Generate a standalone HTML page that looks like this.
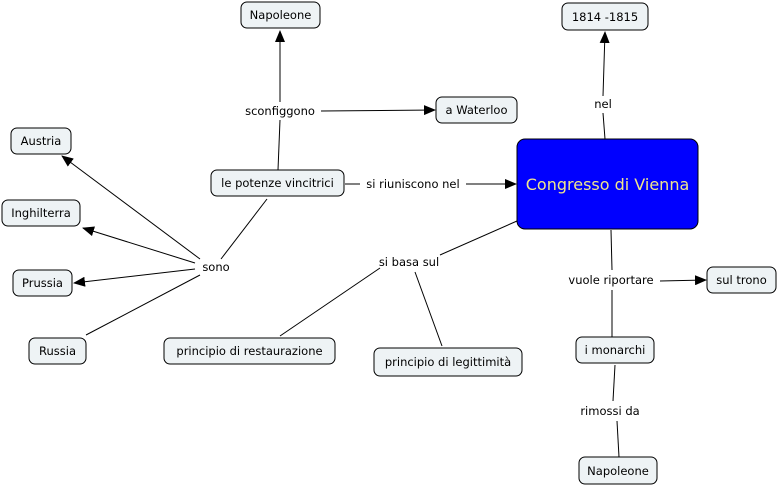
<!DOCTYPE html>
<html><head><meta charset="utf-8"><style>
body{margin:0;background:#fff}
svg{display:block}
text{font-family:"DejaVu Sans","Liberation Sans",sans-serif;font-size:11.5px;fill:#000}
.n{fill:#eef3f5;stroke:#000;stroke-width:1}
.l{stroke:#000;stroke-width:1;fill:none}
</style></head><body>
<svg width="778" height="488" viewBox="0 0 778 488" xmlns="http://www.w3.org/2000/svg">
<defs><marker id="a" markerWidth="12" markerHeight="10" refX="11" refY="5" orient="auto" markerUnits="userSpaceOnUse"><path d="M0,0 L12,5 L0,10 z" fill="#000"/></marker></defs>
<g class="l">
<line x1="278" y1="170" x2="280" y2="120"/>
<line x1="280" y1="102" x2="280" y2="31" marker-end="url(#a)"/>
<line x1="321" y1="111" x2="435" y2="110" marker-end="url(#a)"/>
<line x1="345" y1="184" x2="360" y2="184"/>
<line x1="466" y1="184" x2="516" y2="184" marker-end="url(#a)"/>
<line x1="605" y1="139" x2="603" y2="113"/>
<line x1="603" y1="96" x2="605" y2="32" marker-end="url(#a)"/>
<line x1="267" y1="199" x2="221" y2="259"/>
<line x1="200" y1="259" x2="62" y2="156" marker-end="url(#a)"/>
<line x1="195" y1="263" x2="83" y2="228" marker-end="url(#a)"/>
<line x1="195" y1="269" x2="74" y2="283" marker-end="url(#a)"/>
<line x1="200" y1="275" x2="86" y2="335"/>
<line x1="517" y1="221" x2="440" y2="255"/>
<line x1="380" y1="268" x2="280" y2="336"/>
<line x1="415" y1="272" x2="442" y2="346"/>
<line x1="611" y1="230" x2="612" y2="270"/>
<line x1="660" y1="281" x2="706" y2="280" marker-end="url(#a)"/>
<line x1="612" y1="290" x2="612" y2="337"/>
<line x1="615" y1="365" x2="613" y2="401"/>
<line x1="617" y1="421" x2="619" y2="457"/>
</g>
<rect class="n" x="241" y="2" width="79" height="26" rx="6"/><text x="280.5" y="19" text-anchor="middle">Napoleone</text>
<rect class="n" x="562" y="3" width="86" height="27" rx="6"/><text x="605" y="21" text-anchor="middle">1814 -1815</text>
<rect class="n" x="436" y="97" width="81" height="26" rx="6"/><text x="476.5" y="114" text-anchor="middle">a Waterloo</text>
<rect class="n" x="11" y="128" width="60" height="26" rx="6"/><text x="41" y="145" text-anchor="middle">Austria</text>
<rect class="n" x="211" y="170" width="133" height="26" rx="6"/><text x="277.5" y="187" text-anchor="middle">le potenze vincitrici</text>
<rect x="517" y="139" width="181" height="90" rx="8" fill="#0000ff" stroke="#000"/><text x="607.5" y="190" text-anchor="middle" style="font-size:16px;fill:#f0e68c">Congresso di Vienna</text>
<rect class="n" x="2" y="200" width="78" height="26" rx="6"/><text x="41" y="217" text-anchor="middle">Inghilterra</text>
<rect class="n" x="13" y="270" width="59" height="26" rx="6"/><text x="42.5" y="287" text-anchor="middle">Prussia</text>
<rect class="n" x="707" y="267" width="69" height="26" rx="6"/><text x="741.5" y="284" text-anchor="middle">sul trono</text>
<rect class="n" x="29" y="338" width="57" height="26" rx="6"/><text x="57.5" y="355" text-anchor="middle">Russia</text>
<rect class="n" x="164" y="338" width="171" height="26" rx="6"/><text x="249.5" y="355" text-anchor="middle">principio di restaurazione</text>
<rect class="n" x="374" y="348" width="148" height="28" rx="6"/><text x="448" y="366" text-anchor="middle">principio di legittimità</text>
<rect class="n" x="576" y="337" width="78" height="26" rx="6"/><text x="615" y="354" text-anchor="middle">i monarchi</text>
<rect class="n" x="579" y="457" width="78" height="27" rx="6"/><text x="618" y="475" text-anchor="middle">Napoleone</text>
<text x="280" y="115" text-anchor="middle">sconfiggono</text>
<text x="413" y="188" text-anchor="middle">si riuniscono nel</text>
<text x="603" y="108" text-anchor="middle">nel</text>
<text x="216" y="271" text-anchor="middle">sono</text>
<text x="409" y="266" text-anchor="middle">si basa sul</text>
<text x="611" y="284" text-anchor="middle">vuole riportare</text>
<text x="610" y="415" text-anchor="middle">rimossi da</text>
</svg>
</body></html>
